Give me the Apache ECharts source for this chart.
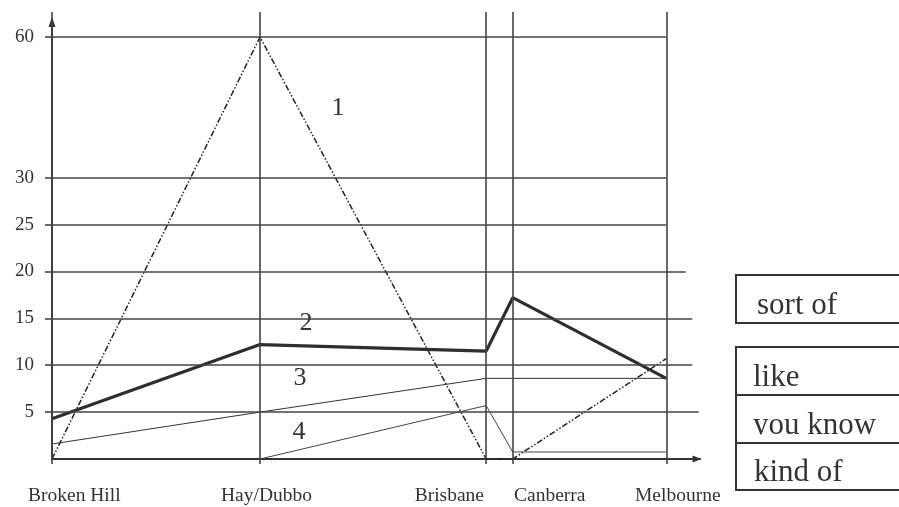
<!DOCTYPE html>
<html>
<head>
<meta charset="utf-8">
<script src="https://cdn.jsdelivr.net/npm/echarts@6/dist/echarts.min.js"></script>
<style>
html,body{margin:0;padding:0;background:#fff;}
#chart{width:899px;height:507px;}
</style>
</head>
<body>
<div id="chart"></div>
<script>
// ---- data ----
const cities = ['Broken Hill', 'Hay/Dubbo', 'Brisbane', 'Canberra', 'Melbourne'];
const cityX = [0, 32.1, 67.0, 71.1, 94.8];          // position of each city along the axis
const line1 = [0, 60, 0, 0, 10.7];
const line2 = [4.3, 12.2, 11.5, 17.2, 8.6];
const line3 = [1.6, 5.0, 8.6, 8.6, 8.6];
const line4 = [null, 0, 5.7, 0.75, 0.75];
const yTicks = [5, 10, 15, 20, 25, 30, 60];
const gridLineEnds = [99.8, 98.8, 98.8, 97.8, 94.8, 94.8, 94.8];
const lineNames = ['1', '2', '3', '4'];
const boxWords = ['sort of', 'like', 'you know', 'kind of'];

// broken scale: above 30 the axis is compressed by half
function toAxis(v) { return v <= 30 ? v : 30 + (v - 30) / 2; }
function fromAxis(a) { return a <= 30 ? a : 30 + (a - 30) * 2; }

const FONT = "'Liberation Serif', 'Times New Roman', serif";
const INK = '#333';
const GRID = '#444';
const YMAX = 46.6;

function pts(vals) {
  const out = [];
  vals.forEach((v, i) => { if (v != null) out.push([cityX[i], toAxis(v)]); });
  return out;
}

const chart = echarts.init(document.getElementById('chart'), null, {renderer: 'canvas'});

const hLines = yTicks.map((v, i) => [{coord: [0, toAxis(v)]}, {coord: [gridLineEnds[i], toAxis(v)]}]);
const vLines = cityX.map(x => [{coord: [x, 0]}, {coord: [x, YMAX]}]);

const option = {
  animation: false,
  backgroundColor: '#fff',
  grid: {left: 52, right: 199, top: 22, bottom: 48, containLabel: false},
  xAxis: [{
    type: 'value', min: 0, max: 100, position: 'bottom',
    axisLine: {show: true, onZero: false, symbol: ['none', 'triangle'], symbolSize: [7, 9], symbolOffset: [0, -3],
      lineStyle: {color: INK, width: 2}},
    axisTick: {show: true, customValues: cityX, length: 5, lineStyle: {color: GRID, width: 1.6}},
    axisLabel: {show: false},
    splitLine: {show: false}
  }, {
    type: 'value', min: 0, max: 100, position: 'top',
    axisLine: {show: false, onZero: false},
    axisTick: {show: true, customValues: cityX, length: 10, lineStyle: {color: GRID, width: 1.6}},
    axisLabel: {show: false},
    splitLine: {show: false}
  }],
  yAxis: {
    type: 'value', min: 0, max: YMAX,
    axisLine: {show: true, onZero: false, symbol: ['none', 'triangle'], symbolSize: [7, 10],
      lineStyle: {color: INK, width: 2}},
    axisTick: {show: true, customValues: yTicks.map(toAxis), length: 7, lineStyle: {color: GRID, width: 1.6}},
    axisLabel: {show: true, customValues: yTicks.map(toAxis), margin: 18,
      formatter: v => String(Math.round(fromAxis(v))),
      fontFamily: FONT, fontSize: 19, color: INK},
    splitLine: {show: false}
  },
  series: [
    {
      type: 'line', data: [], silent: true,
      markLine: {silent: true, symbol: ['none', 'none'], label: {show: false},
        lineStyle: {color: GRID, width: 1.6, type: 'solid'}, emphasis: {disabled: true},
        data: hLines.concat(vLines)}
    },
    {type: 'line', data: [], xAxisIndex: 1, silent: true},
    {name: lineNames[0], type: 'line', data: pts(line1), symbol: 'none', silent: true,
      lineStyle: {color: '#222', width: 1.5, type: [6, 2, 1.5, 2, 1.5, 2]}},
    {name: lineNames[1], type: 'line', data: pts(line2), symbol: 'none', silent: true,
      lineStyle: {color: '#2e2e2e', width: 3.2}},
    {name: lineNames[2], type: 'line', data: pts(line3), symbol: 'none', silent: true,
      lineStyle: {color: '#333', width: 1}},
    {name: lineNames[3], type: 'line', data: pts(line4), symbol: 'none', silent: true,
      lineStyle: {color: '#444', width: 1}}
  ],
  graphic: []
};

// line number labels
const numPos = [[338, 108], [306, 323], [300, 378], [299, 432]];
lineNames.forEach((n, i) => {
  option.graphic.push({type: 'text', silent: true, z: 10,
    style: {text: n, x: numPos[i][0], y: numPos[i][1], font: '26px ' + FONT, fill: INK, align: 'center', verticalAlign: 'middle'}});
});

// city labels
const labelSpec = [[28, 'left'], [221, 'left'], [484, 'right'], [514, 'left'], [635, 'left']];
cities.forEach((c, i) => {
  option.graphic.push({type: 'text', silent: true, z: 10,
    style: {text: c, x: labelSpec[i][0], y: 496, font: '19.5px ' + FONT, fill: INK, align: labelSpec[i][1], verticalAlign: 'middle'}});
});

// boxes with clipped words
const boxes = [[275, 323], [347, 395], [395, 443], [443, 490]];
const wordX = [757, 753, 753, 754];
boxWords.forEach((w, i) => {
  const top = boxes[i][0], bot = boxes[i][1];
  const base = bot - 7;
  const cut = bot - 8.5;
  option.graphic.push({type: 'text', silent: true, z: 20,
    style: {text: w, x: wordX[i], y: base - 31 * 0.34, font: '31px ' + FONT, fill: INK, align: 'left', verticalAlign: 'middle'}});
  option.graphic.push({type: 'rect', silent: true, z: 21,
    shape: {x: 740, y: cut, width: 170, height: bot - cut}, style: {fill: '#fff'}});
  option.graphic.push({type: 'rect', silent: true, z: 22,
    shape: {x: 736, y: top, width: 180, height: bot - top}, style: {fill: 'none', stroke: INK, lineWidth: 2}});
});

chart.setOption(option);
</script>
</body>
</html>
